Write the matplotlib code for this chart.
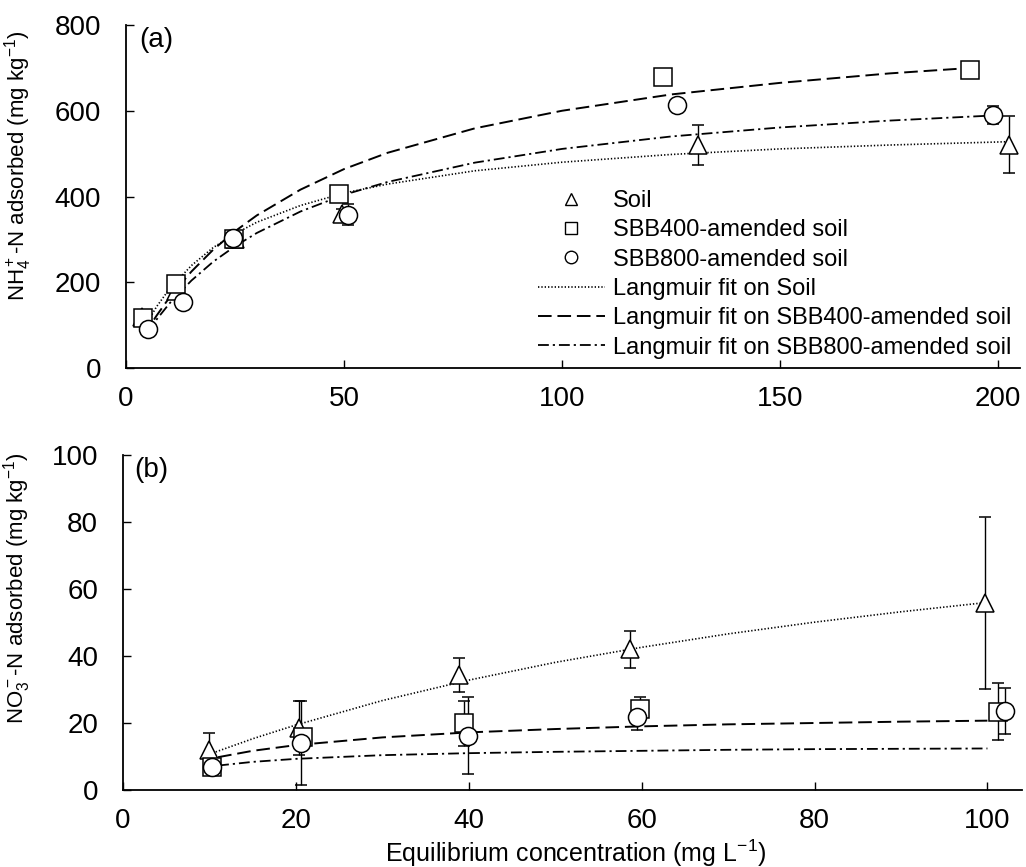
import matplotlib
matplotlib.use("Agg")
import matplotlib.pyplot as plt
from matplotlib.lines import Line2D

plt.rcParams['font.family'] = ['Liberation Sans', 'DejaVu Sans']
plt.rcParams['mathtext.fontset'] = 'custom'
plt.rcParams['mathtext.rm'] = 'Liberation Sans'
plt.rcParams['mathtext.it'] = 'Liberation Sans:italic'
plt.rcParams['mathtext.bf'] = 'Liberation Sans:bold'

# (a) NH4+-N adsorption: measured points (C in mg/L, q in mg/kg, +/- error)
soil_c_a = [3.6, 11.5, 25.0, 49.5, 131.2, 202.4]
soil_q_a = [118, 180, 300, 360, 520, 521]
soil_e_a = [6, 5, 8, 12, 47, 66]

sbb400_c_a = [3.9, 11.4, 24.8, 48.8, 123.2, 193.5]
sbb400_q_a = [117, 195, 300, 405, 679, 695]
sbb400_e_a = [5, 6, 8, 8, 5, 13]

sbb800_c_a = [5.1, 13.1, 24.5, 50.9, 126.3, 198.9]
sbb800_q_a = [92, 155, 304, 358, 613, 590]
sbb800_e_a = [5, 6, 6, 25, 5, 22]

# (a) Langmuir fit curves
soil_fit_c_a = [4, 7, 10, 15, 20, 25, 30, 40, 50, 60, 80, 100, 125, 150, 175, 203]
soil_fit_q_a = [91, 143, 185, 239, 281, 313, 340, 379, 408, 429, 460, 480, 498, 511, 520, 528]
sbb400_fit_c_a = [4, 7, 10, 15, 20, 25, 30, 40, 50, 60, 80, 100, 125, 150, 175, 194]
sbb400_fit_q_a = [75, 122, 165, 225, 276, 319, 356, 416, 464, 502, 559, 600, 638, 665, 687, 700]
sbb800_fit_c_a = [5, 7, 10, 15, 20, 25, 30, 40, 50, 60, 80, 100, 125, 150, 175, 199]
sbb800_fit_q_a = [84, 113, 151, 204, 248, 284, 315, 365, 404, 434, 479, 511, 540, 561, 577, 589]

# (b) NO3--N adsorption: measured points
soil_c_b = [10.0, 20.4, 38.9, 58.6, 99.7]
soil_q_b = [11.9, 18.5, 34.3, 42.0, 55.9]
soil_e_b = [5.0, 8.0, 5.1, 5.6, 25.6]

sbb400_c_b = [10.3, 20.8, 39.5, 59.8, 101.2]
sbb400_q_b = [7.0, 15.9, 19.9, 24.1, 23.4]
sbb400_e_b = [1.5, 2.0, 6.7, 3.6, 8.5]

sbb800_c_b = [10.3, 20.6, 39.9, 59.5, 102.0]
sbb800_q_b = [6.8, 14.1, 16.2, 21.9, 23.6]
sbb800_e_b = [1.5, 12.5, 11.5, 4.0, 6.8]

# (b) Langmuir fit curves
soil_fit_c_b = [10, 15, 20, 30, 40, 50, 60, 70, 80, 90, 100]
soil_fit_q_b = [10.7, 15.3, 19.4, 26.7, 32.8, 38.1, 42.6, 46.6, 50.1, 53.2, 56.0]
sbb400_fit_c_b = [11, 15, 20, 30, 40, 50, 60, 70, 80, 90, 100]
sbb400_fit_q_b = [9.8, 11.7, 13.4, 15.7, 17.2, 18.2, 19.0, 19.6, 20.0, 20.4, 20.7]
sbb800_fit_c_b = [11, 15, 20, 30, 40, 50, 60, 70, 80, 90, 100]
sbb800_fit_q_b = [7.3, 8.4, 9.3, 10.4, 11.0, 11.4, 11.7, 12.0, 12.2, 12.3, 12.4]

labels = ['Soil', 'SBB400-amended soil', 'SBB800-amended soil',
          'Langmuir fit on Soil', 'Langmuir fit on SBB400-amended soil',
          'Langmuir fit on SBB800-amended soil']

dot_style = dict(color='black', lw=1.2, dashes=(0.8, 1.2))
dash_style = dict(color='black', lw=1.4, dashes=(7.0, 3.0))
dashdot_style = dict(color='black', lw=1.3, dashes=(6.0, 2.2, 1.2, 2.2))

ms = 13
mk = dict(mfc='white', mec='black', mew=1.1, ms=ms, ecolor='black',
          elinewidth=1.0, capsize=4.2, capthick=1.0, ls='none')

fig = plt.figure(figsize=(10.26, 8.67), dpi=100)
ax1 = fig.add_axes([0.1228, 0.5755, 0.8714, 0.3957])
ax2 = fig.add_axes([0.1199, 0.0888, 0.8762, 0.3864])


def draw(ax, fits, pts):
    ax.plot(fits[0][0], fits[0][1], zorder=2, **dot_style)
    ax.plot(fits[1][0], fits[1][1], zorder=2, **dash_style)
    ax.plot(fits[2][0], fits[2][1], zorder=2, **dashdot_style)
    for (c, q, e), m in zip(pts, ['^', 's', 'o']):
        ax.errorbar(c, q, yerr=e, marker=m, zorder=3, **mk)


draw(ax1,
     [(soil_fit_c_a, soil_fit_q_a), (sbb400_fit_c_a, sbb400_fit_q_a),
      (sbb800_fit_c_a, sbb800_fit_q_a)],
     [(soil_c_a, soil_q_a, soil_e_a), (sbb400_c_a, sbb400_q_a, sbb400_e_a),
      (sbb800_c_a, sbb800_q_a, sbb800_e_a)])
draw(ax2,
     [(soil_fit_c_b, soil_fit_q_b), (sbb400_fit_c_b, sbb400_fit_q_b),
      (sbb800_fit_c_b, sbb800_fit_q_b)],
     [(soil_c_b, soil_q_b, soil_e_b), (sbb400_c_b, sbb400_q_b, sbb400_e_b),
      (sbb800_c_b, sbb800_q_b, sbb800_e_b)])

ax1.set_xlim(0, 205)
ax1.set_ylim(0, 800)
ax1.set_xticks([0, 50, 100, 150, 200])
ax1.set_yticks([0, 200, 400, 600, 800])
ax2.set_xlim(0, 104)
ax2.set_ylim(0, 100)
ax2.set_xticks([0, 20, 40, 60, 80, 100])
ax2.set_yticks([0, 20, 40, 60, 80, 100])

for ax in (ax1, ax2):
    for s in ('top', 'right'):
        ax.spines[s].set_visible(False)
    for s in ('left', 'bottom'):
        ax.spines[s].set_linewidth(1.3)
    ax.tick_params(axis='both', direction='in', length=6, width=1.0, labelsize=20)
    ax.tick_params(axis='x', pad=13)
    ax.tick_params(axis='y', pad=18)

ax1.set_ylabel(r'NH$_4^+$-N adsorbed (mg kg$^{-1}$)', fontsize=16)
ax1.yaxis.set_label_coords(-0.103, 0.59)
ax2.set_ylabel(r'NO$_3^-$-N adsorbed (mg kg$^{-1}$)', fontsize=16)
ax2.yaxis.set_label_coords(-0.1, 0.603)
ax2.set_xlabel(r'Equilibrium concentration (mg L$^{-1}$)', fontsize=18)
ax2.xaxis.set_label_coords(0.503, -0.142)

ax1.text(0.015, 0.995, '(a)', transform=ax1.transAxes, fontsize=20, va='top', ha='left')
ax2.text(0.013, 0.995, '(b)', transform=ax2.transAxes, fontsize=20, va='top', ha='left')

handles = [
    Line2D([], [], ls='none', marker='^', mfc='white', mec='black', mew=1.0, ms=9),
    Line2D([], [], ls='none', marker='s', mfc='white', mec='black', mew=1.0, ms=9),
    Line2D([], [], ls='none', marker='o', mfc='white', mec='black', mew=1.0, ms=9),
    Line2D([], [], **dot_style),
    Line2D([], [], **dash_style),
    Line2D([], [], **dashdot_style),
]
ax1.legend(handles, labels, loc='upper left', bbox_to_anchor=(538 / 1026, 1 - 190 / 867),
           bbox_transform=fig.transFigure, frameon=False, fontsize=17,
           handlelength=2.82, handletextpad=0.34, labelspacing=0.31,
           borderpad=0, borderaxespad=0)

fig.savefig('out.png', dpi=100)
